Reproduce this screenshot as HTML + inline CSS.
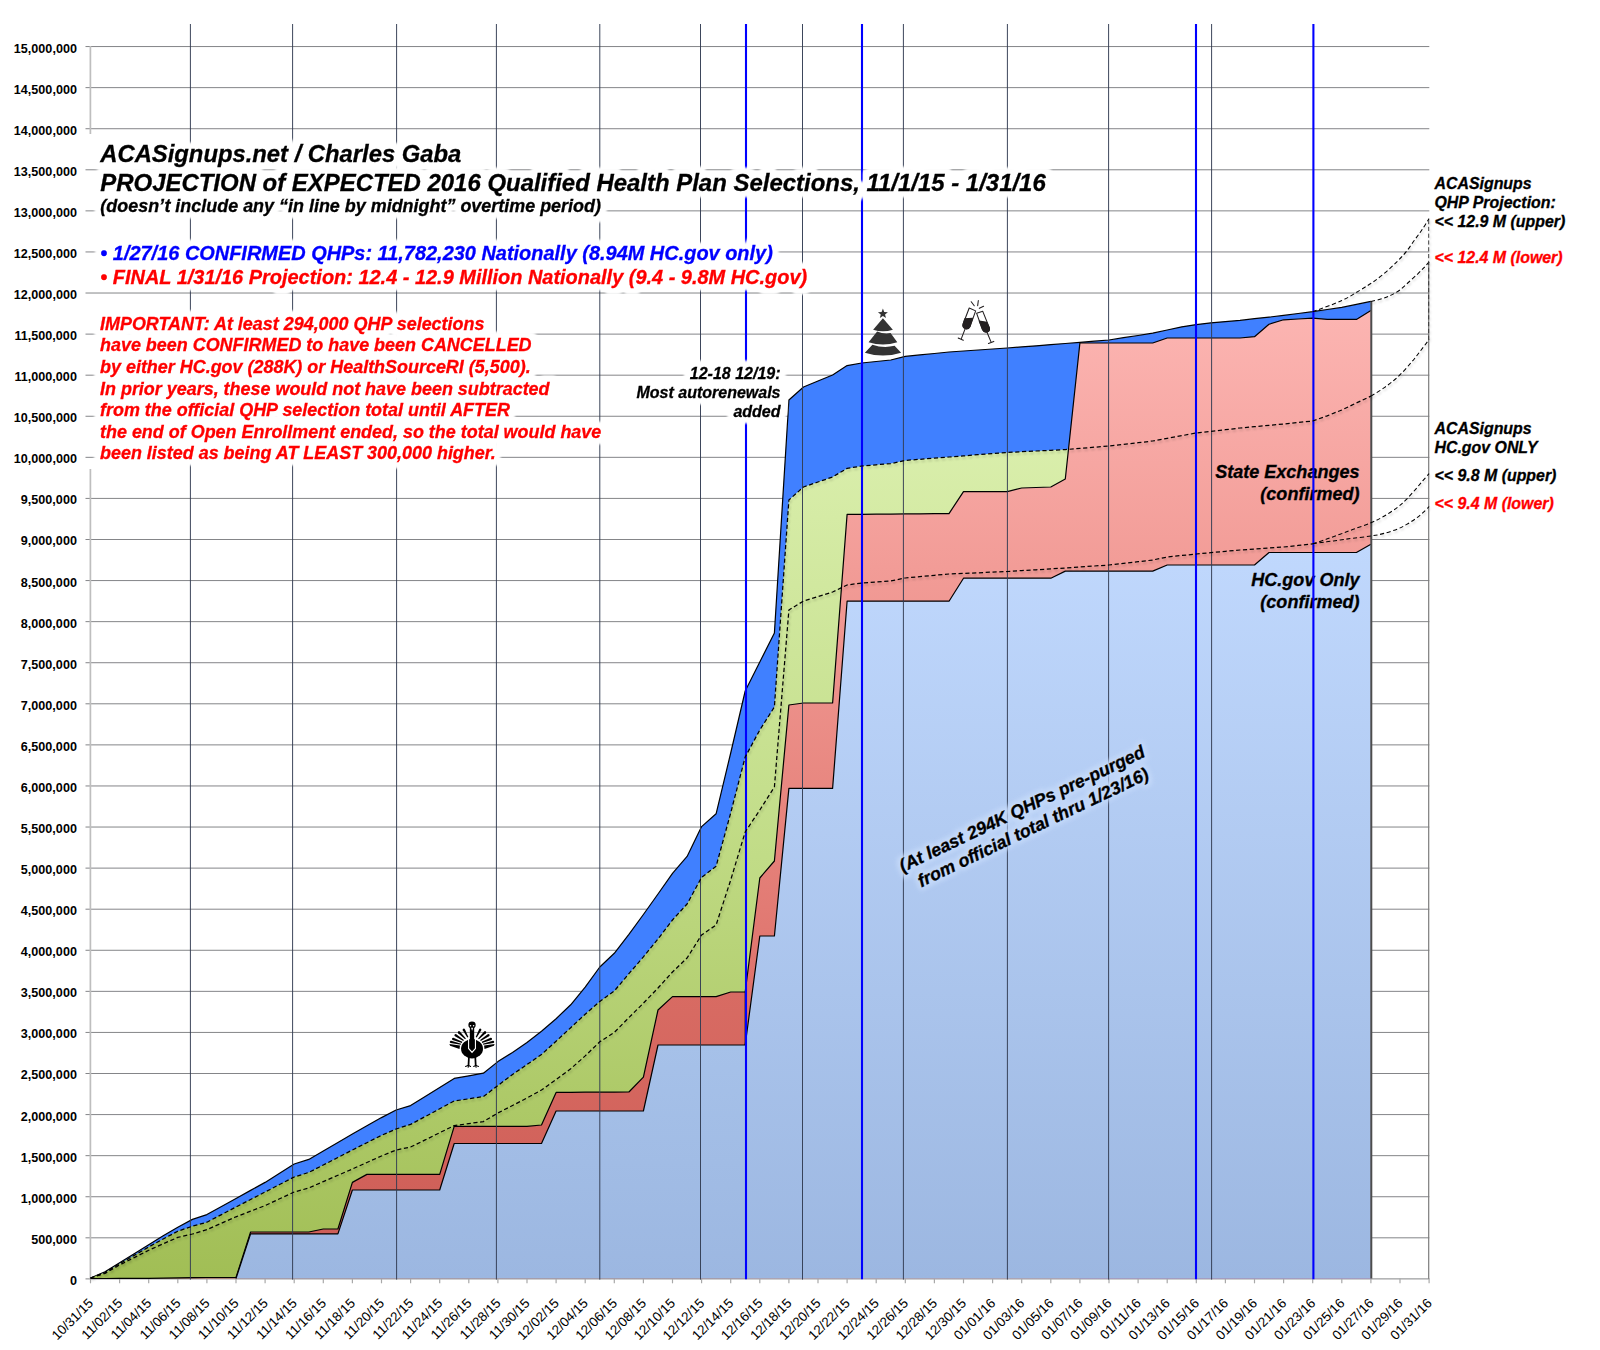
<!DOCTYPE html>
<html lang="en"><head><meta charset="utf-8"><title>ACASignups.net QHP Projection</title>
<style>
html,body{margin:0;padding:0;background:#fff;}
body{width:1600px;height:1350px;overflow:hidden;}
svg{display:block;}
text{font-family:"Liberation Sans",Arial,Helvetica,sans-serif;}
.yl{font-weight:bold;font-size:12.6px;fill:#000;text-anchor:end;}
.xl{font-size:13.4px;fill:#000;text-anchor:end;}
.bi{font-weight:bold;font-style:italic;stroke-width:0.3px;}
</style></head><body>
<svg width="1600" height="1350" viewBox="0 0 1600 1350">
<defs>
<linearGradient id="gHCn" gradientUnits="userSpaceOnUse" x1="0" y1="544" x2="0" y2="1279"><stop offset="0" stop-color="#c0d8fd"/><stop offset="1" stop-color="#9cb7e1"/></linearGradient>
<linearGradient id="gHCo" gradientUnits="userSpaceOnUse" x1="0" y1="1045" x2="0" y2="1279"><stop offset="0" stop-color="#a6c1e9"/><stop offset="1" stop-color="#9cb7e1"/></linearGradient>
<linearGradient id="gRn" gradientUnits="userSpaceOnUse" x1="0" y1="310" x2="0" y2="1045"><stop offset="0" stop-color="#fcb5b2"/><stop offset="0.35" stop-color="#f29c97"/><stop offset="0.65" stop-color="#e88780"/><stop offset="1" stop-color="#db6d66"/></linearGradient>
<linearGradient id="gRo" gradientUnits="userSpaceOnUse" x1="0" y1="992" x2="0" y2="1279"><stop offset="0" stop-color="#d86b63"/><stop offset="1" stop-color="#cd5c55"/></linearGradient>
<linearGradient id="gGn" gradientUnits="userSpaceOnUse" x1="0" y1="449" x2="0" y2="992"><stop offset="0" stop-color="#d9eeab"/><stop offset="1" stop-color="#b9d67b"/></linearGradient>
<linearGradient id="gGo" gradientUnits="userSpaceOnUse" x1="0" y1="755" x2="0" y2="1279"><stop offset="0" stop-color="#c6e08d"/><stop offset="1" stop-color="#a1be55"/></linearGradient>
<filter id="halo" color-interpolation-filters="sRGB" x="-5%" y="-40%" width="110%" height="180%"><feMorphology in="SourceAlpha" operator="dilate" radius="4.6" result="d"/><feGaussianBlur in="d" stdDeviation="1.7" result="b"/><feFlood flood-color="#fff"/><feComposite in2="b" operator="in" result="g"/><feMerge><feMergeNode in="g"/><feMergeNode in="g"/><feMergeNode in="g"/><feMergeNode in="SourceGraphic"/></feMerge></filter>
<filter id="halo2" color-interpolation-filters="sRGB" x="-5%" y="-30%" width="110%" height="160%"><feMorphology in="SourceAlpha" operator="dilate" radius="3" result="d"/><feGaussianBlur in="d" stdDeviation="2.2" result="b"/><feFlood flood-color="#c6dafa" flood-opacity="0.92"/><feComposite in2="b" operator="in"/></filter>
<filter id="dsh" color-interpolation-filters="sRGB" x="-2%" y="-2%" width="104%" height="104%"><feGaussianBlur in="SourceAlpha" stdDeviation="0.9" result="b"/><feOffset in="b" dx="1.3" dy="1.5" result="o"/><feFlood flood-color="#000" flood-opacity="0.2"/><feComposite in2="o" operator="in" result="s"/><feMerge><feMergeNode in="s"/><feMergeNode in="SourceGraphic"/></feMerge></filter>
</defs>
<rect width="1600" height="1350" fill="#fff"/>

<g stroke="#848588" stroke-width="1" fill="none">
<line x1="85.5" y1="1278.90" x2="1429.3" y2="1278.90"/>
<line x1="85.5" y1="1237.82" x2="1429.3" y2="1237.82"/>
<line x1="85.5" y1="1196.74" x2="1429.3" y2="1196.74"/>
<line x1="85.5" y1="1155.67" x2="1429.3" y2="1155.67"/>
<line x1="85.5" y1="1114.59" x2="1429.3" y2="1114.59"/>
<line x1="85.5" y1="1073.51" x2="1429.3" y2="1073.51"/>
<line x1="85.5" y1="1032.43" x2="1429.3" y2="1032.43"/>
<line x1="85.5" y1="991.35" x2="1429.3" y2="991.35"/>
<line x1="85.5" y1="950.28" x2="1429.3" y2="950.28"/>
<line x1="85.5" y1="909.20" x2="1429.3" y2="909.20"/>
<line x1="85.5" y1="868.12" x2="1429.3" y2="868.12"/>
<line x1="85.5" y1="827.04" x2="1429.3" y2="827.04"/>
<line x1="85.5" y1="785.96" x2="1429.3" y2="785.96"/>
<line x1="85.5" y1="744.89" x2="1429.3" y2="744.89"/>
<line x1="85.5" y1="703.81" x2="1429.3" y2="703.81"/>
<line x1="85.5" y1="662.73" x2="1429.3" y2="662.73"/>
<line x1="85.5" y1="621.65" x2="1429.3" y2="621.65"/>
<line x1="85.5" y1="580.57" x2="1429.3" y2="580.57"/>
<line x1="85.5" y1="539.50" x2="1429.3" y2="539.50"/>
<line x1="85.5" y1="498.42" x2="1429.3" y2="498.42"/>
<line x1="85.5" y1="457.34" x2="1429.3" y2="457.34"/>
<line x1="85.5" y1="416.26" x2="1429.3" y2="416.26"/>
<line x1="85.5" y1="375.18" x2="1429.3" y2="375.18"/>
<line x1="85.5" y1="334.11" x2="1429.3" y2="334.11"/>
<line x1="85.5" y1="293.03" x2="1429.3" y2="293.03"/>
<line x1="85.5" y1="251.95" x2="1429.3" y2="251.95"/>
<line x1="85.5" y1="210.87" x2="1429.3" y2="210.87"/>
<line x1="85.5" y1="169.79" x2="1429.3" y2="169.79"/>
<line x1="85.5" y1="128.72" x2="1429.3" y2="128.72"/>
<line x1="85.5" y1="87.64" x2="1429.3" y2="87.64"/>
<line x1="85.5" y1="46.56" x2="1429.3" y2="46.56"/>
</g>
<path d="M90.4,46 V134 M90.4,469 V1279" stroke="#bebebe" stroke-width="1.7" fill="none"/>
<line x1="1428.7" y1="262" x2="1428.7" y2="1279" stroke="#7c7c7c" stroke-width="1.2"/>
<g stroke="#a9a9a9" stroke-width="1.2">
<line x1="90.5" y1="1278.5" x2="90.5" y2="1283.3"/>
<line x1="119.6" y1="1278.5" x2="119.6" y2="1283.3"/>
<line x1="148.7" y1="1278.5" x2="148.7" y2="1283.3"/>
<line x1="177.8" y1="1278.5" x2="177.8" y2="1283.3"/>
<line x1="206.9" y1="1278.5" x2="206.9" y2="1283.3"/>
<line x1="236.0" y1="1278.5" x2="236.0" y2="1283.3"/>
<line x1="265.1" y1="1278.5" x2="265.1" y2="1283.3"/>
<line x1="294.2" y1="1278.5" x2="294.2" y2="1283.3"/>
<line x1="323.3" y1="1278.5" x2="323.3" y2="1283.3"/>
<line x1="352.4" y1="1278.5" x2="352.4" y2="1283.3"/>
<line x1="381.5" y1="1278.5" x2="381.5" y2="1283.3"/>
<line x1="410.6" y1="1278.5" x2="410.6" y2="1283.3"/>
<line x1="439.7" y1="1278.5" x2="439.7" y2="1283.3"/>
<line x1="468.8" y1="1278.5" x2="468.8" y2="1283.3"/>
<line x1="497.9" y1="1278.5" x2="497.9" y2="1283.3"/>
<line x1="527.0" y1="1278.5" x2="527.0" y2="1283.3"/>
<line x1="556.1" y1="1278.5" x2="556.1" y2="1283.3"/>
<line x1="585.2" y1="1278.5" x2="585.2" y2="1283.3"/>
<line x1="614.3" y1="1278.5" x2="614.3" y2="1283.3"/>
<line x1="643.4" y1="1278.5" x2="643.4" y2="1283.3"/>
<line x1="672.5" y1="1278.5" x2="672.5" y2="1283.3"/>
<line x1="701.6" y1="1278.5" x2="701.6" y2="1283.3"/>
<line x1="730.7" y1="1278.5" x2="730.7" y2="1283.3"/>
<line x1="759.8" y1="1278.5" x2="759.8" y2="1283.3"/>
<line x1="788.9" y1="1278.5" x2="788.9" y2="1283.3"/>
<line x1="818.0" y1="1278.5" x2="818.0" y2="1283.3"/>
<line x1="847.1" y1="1278.5" x2="847.1" y2="1283.3"/>
<line x1="876.2" y1="1278.5" x2="876.2" y2="1283.3"/>
<line x1="905.3" y1="1278.5" x2="905.3" y2="1283.3"/>
<line x1="934.4" y1="1278.5" x2="934.4" y2="1283.3"/>
<line x1="963.5" y1="1278.5" x2="963.5" y2="1283.3"/>
<line x1="992.6" y1="1278.5" x2="992.6" y2="1283.3"/>
<line x1="1021.7" y1="1278.5" x2="1021.7" y2="1283.3"/>
<line x1="1050.8" y1="1278.5" x2="1050.8" y2="1283.3"/>
<line x1="1079.9" y1="1278.5" x2="1079.9" y2="1283.3"/>
<line x1="1109.0" y1="1278.5" x2="1109.0" y2="1283.3"/>
<line x1="1138.1" y1="1278.5" x2="1138.1" y2="1283.3"/>
<line x1="1167.2" y1="1278.5" x2="1167.2" y2="1283.3"/>
<line x1="1196.3" y1="1278.5" x2="1196.3" y2="1283.3"/>
<line x1="1225.4" y1="1278.5" x2="1225.4" y2="1283.3"/>
<line x1="1254.5" y1="1278.5" x2="1254.5" y2="1283.3"/>
<line x1="1283.6" y1="1278.5" x2="1283.6" y2="1283.3"/>
<line x1="1312.7" y1="1278.5" x2="1312.7" y2="1283.3"/>
<line x1="1341.8" y1="1278.5" x2="1341.8" y2="1283.3"/>
<line x1="1370.9" y1="1278.5" x2="1370.9" y2="1283.3"/>
<line x1="1400.0" y1="1278.5" x2="1400.0" y2="1283.3"/>
<line x1="1429.1" y1="1278.5" x2="1429.1" y2="1283.3"/>
</g>
<g class="yl">
<text x="76.9" y="1284.8">0</text>
<text x="76.9" y="1243.7">500,000</text>
<text x="76.9" y="1202.6">1,000,000</text>
<text x="76.9" y="1161.6">1,500,000</text>
<text x="76.9" y="1120.5">2,000,000</text>
<text x="76.9" y="1079.4">2,500,000</text>
<text x="76.9" y="1038.3">3,000,000</text>
<text x="76.9" y="997.3">3,500,000</text>
<text x="76.9" y="956.2">4,000,000</text>
<text x="76.9" y="915.1">4,500,000</text>
<text x="76.9" y="874.0">5,000,000</text>
<text x="76.9" y="832.9">5,500,000</text>
<text x="76.9" y="791.9">6,000,000</text>
<text x="76.9" y="750.8">6,500,000</text>
<text x="76.9" y="709.7">7,000,000</text>
<text x="76.9" y="668.6">7,500,000</text>
<text x="76.9" y="627.6">8,000,000</text>
<text x="76.9" y="586.5">8,500,000</text>
<text x="76.9" y="545.4">9,000,000</text>
<text x="76.9" y="504.3">9,500,000</text>
<text x="76.9" y="463.2">10,000,000</text>
<text x="76.9" y="422.2">10,500,000</text>
<text x="76.9" y="381.1">11,000,000</text>
<text x="76.9" y="340.0">11,500,000</text>
<text x="76.9" y="298.9">12,000,000</text>
<text x="76.9" y="257.9">12,500,000</text>
<text x="76.9" y="216.8">13,000,000</text>
<text x="76.9" y="175.7">13,500,000</text>
<text x="76.9" y="134.6">14,000,000</text>
<text x="76.9" y="93.5">14,500,000</text>
<text x="76.9" y="52.5">15,000,000</text>
</g>
<g>
<polygon points="90.5,1278.5 90.5,1278.0 105.0,1271.8 119.6,1262.7 134.2,1253.7 148.7,1244.7 163.2,1235.7 177.8,1227.2 192.4,1219.4 206.9,1214.6 221.5,1206.5 236.0,1198.4 250.6,1190.4 265.1,1182.4 279.6,1173.2 294.2,1164.0 308.8,1159.4 323.3,1151.0 337.9,1142.5 352.4,1134.0 366.9,1125.8 381.5,1117.6 396.1,1110.0 410.6,1105.6 425.2,1096.5 439.7,1087.5 454.2,1078.4 468.8,1075.8 483.4,1073.2 497.9,1061.6 512.5,1052.4 527.0,1042.4 541.5,1031.3 556.1,1018.7 570.7,1004.8 585.2,987.2 599.8,967.0 614.3,953.3 628.9,934.4 643.4,914.5 658.0,894.0 672.5,873.4 687.1,856.4 701.6,826.6 716.1,813.8 730.7,753.0 745.2,691.0 745.2,1278.5" fill="#4080ff" stroke="none" /><polyline points="90.5,1278.0 105.0,1271.8 119.6,1262.7 134.2,1253.7 148.7,1244.7 163.2,1235.7 177.8,1227.2 192.4,1219.4 206.9,1214.6 221.5,1206.5 236.0,1198.4 250.6,1190.4 265.1,1182.4 279.6,1173.2 294.2,1164.0 308.8,1159.4 323.3,1151.0 337.9,1142.5 352.4,1134.0 366.9,1125.8 381.5,1117.6 396.1,1110.0 410.6,1105.6 425.2,1096.5 439.7,1087.5 454.2,1078.4 468.8,1075.8 483.4,1073.2 497.9,1061.6 512.5,1052.4 527.0,1042.4 541.5,1031.3 556.1,1018.7 570.7,1004.8 585.2,987.2 599.8,967.0 614.3,953.3 628.9,934.4 643.4,914.5 658.0,894.0 672.5,873.4 687.1,856.4 701.6,826.6 716.1,813.8 730.7,753.0 745.2,691.0" fill="none" stroke="#000" stroke-width="1.2" stroke-linejoin="round"/>
<polygon points="90.5,1278.5 90.5,1278.0 105.0,1272.6 119.6,1263.8 134.2,1255.4 148.7,1247.0 163.2,1239.0 177.8,1231.2 192.4,1226.2 206.9,1222.2 221.5,1214.6 236.0,1207.0 250.6,1199.5 265.1,1192.0 279.6,1184.5 294.2,1177.0 308.8,1172.4 323.3,1165.0 337.9,1157.5 352.4,1150.0 366.9,1142.7 381.5,1135.4 396.1,1129.0 410.6,1124.4 425.2,1116.6 439.7,1108.8 454.2,1101.0 468.8,1098.8 483.4,1096.6 497.9,1085.5 512.5,1074.5 527.0,1064.5 541.5,1054.5 556.1,1041.2 570.7,1027.7 585.2,1014.2 599.8,1001.5 614.3,991.0 628.9,973.7 643.4,956.9 658.0,939.0 672.5,920.0 687.1,904.0 701.6,877.4 716.1,866.3 730.7,813.0 745.2,757.0 745.2,1278.5" fill="url(#gGo)" stroke="none" />
<polygon points="90.5,1278.5 90.5,1278.5 105.0,1278.5 119.6,1278.4 134.2,1278.3 148.7,1278.3 163.2,1278.1 177.8,1277.9 192.4,1277.7 206.9,1277.5 221.5,1277.5 236.0,1277.5 250.6,1232.0 265.1,1232.0 279.6,1232.0 294.2,1232.0 308.8,1232.0 323.3,1229.0 337.9,1229.0 352.4,1182.4 366.9,1174.4 381.5,1174.4 396.1,1174.4 410.6,1174.4 425.2,1174.4 439.7,1174.4 454.2,1126.4 468.8,1126.4 483.4,1126.4 497.9,1126.4 512.5,1126.4 527.0,1126.4 541.5,1125.0 556.1,1092.4 570.7,1092.3 585.2,1092.2 599.8,1092.2 614.3,1092.1 628.9,1092.0 643.4,1077.2 658.0,1010.0 672.5,996.6 687.1,996.6 701.6,996.6 716.1,996.6 730.7,992.0 745.2,992.0 745.2,1278.5" fill="url(#gRo)" stroke="none" /><polyline points="90.5,1278.5 105.0,1278.5 119.6,1278.4 134.2,1278.3 148.7,1278.3 163.2,1278.1 177.8,1277.9 192.4,1277.7 206.9,1277.5 221.5,1277.5 236.0,1277.5 250.6,1232.0 265.1,1232.0 279.6,1232.0 294.2,1232.0 308.8,1232.0 323.3,1229.0 337.9,1229.0 352.4,1182.4 366.9,1174.4 381.5,1174.4 396.1,1174.4 410.6,1174.4 425.2,1174.4 439.7,1174.4 454.2,1126.4 468.8,1126.4 483.4,1126.4 497.9,1126.4 512.5,1126.4 527.0,1126.4 541.5,1125.0 556.1,1092.4 570.7,1092.3 585.2,1092.2 599.8,1092.2 614.3,1092.1 628.9,1092.0 643.4,1077.2 658.0,1010.0 672.5,996.6 687.1,996.6 701.6,996.6 716.1,996.6 730.7,992.0 745.2,992.0" fill="none" stroke="#000" stroke-width="1.2" stroke-linejoin="round"/>
<polygon points="236.0,1278.5 236.0,1278.5 250.6,1233.9 265.1,1233.9 279.6,1233.9 294.2,1233.9 308.8,1233.9 323.3,1233.9 337.9,1233.9 352.4,1190.0 366.9,1190.0 381.5,1190.0 396.1,1190.0 410.6,1190.0 425.2,1190.0 439.7,1190.0 454.2,1143.5 468.8,1143.5 483.4,1143.5 497.9,1143.5 512.5,1143.5 527.0,1143.5 541.5,1143.5 556.1,1111.0 570.7,1111.0 585.2,1111.0 599.8,1111.0 614.3,1111.0 628.9,1111.0 643.4,1111.0 658.0,1045.0 672.5,1045.0 687.1,1045.0 701.6,1045.0 716.1,1045.0 730.7,1045.0 745.2,1045.0 745.2,1278.5" fill="url(#gHCo)" stroke="none" /><polyline points="236.0,1278.5 250.6,1233.9 265.1,1233.9 279.6,1233.9 294.2,1233.9 308.8,1233.9 323.3,1233.9 337.9,1233.9 352.4,1190.0 366.9,1190.0 381.5,1190.0 396.1,1190.0 410.6,1190.0 425.2,1190.0 439.7,1190.0 454.2,1143.5 468.8,1143.5 483.4,1143.5 497.9,1143.5 512.5,1143.5 527.0,1143.5 541.5,1143.5 556.1,1111.0 570.7,1111.0 585.2,1111.0 599.8,1111.0 614.3,1111.0 628.9,1111.0 643.4,1111.0 658.0,1045.0 672.5,1045.0 687.1,1045.0 701.6,1045.0 716.1,1045.0 730.7,1045.0 745.2,1045.0" fill="none" stroke="#000" stroke-width="1.2" stroke-linejoin="round"/>
<polygon points="745.2,1278.5 745.2,691.0 759.8,662.0 774.4,633.0 788.9,400.0 803.5,387.0 818.0,381.0 832.6,375.0 847.1,365.6 861.7,363.0 876.2,361.5 890.8,360.0 905.3,356.4 919.9,354.9 934.4,353.5 949.0,352.0 963.5,351.0 978.1,350.0 992.6,349.0 1007.2,348.0 1021.7,346.9 1036.2,345.8 1050.8,344.6 1065.3,343.5 1079.9,342.4 1094.5,341.2 1109.0,340.0 1123.5,337.7 1138.1,335.5 1152.7,333.2 1167.2,330.0 1181.8,326.8 1196.3,324.6 1210.9,322.8 1225.4,321.6 1240.0,320.4 1254.5,318.7 1269.0,317.1 1283.6,315.4 1298.2,313.5 1312.7,311.7 1327.2,309.5 1341.8,307.4 1356.4,304.4 1370.9,301.4 1370.9,1278.5" fill="#4080ff" stroke="none" /><polyline points="745.2,691.0 759.8,662.0 774.4,633.0 788.9,400.0 803.5,387.0 818.0,381.0 832.6,375.0 847.1,365.6 861.7,363.0 876.2,361.5 890.8,360.0 905.3,356.4 919.9,354.9 934.4,353.5 949.0,352.0 963.5,351.0 978.1,350.0 992.6,349.0 1007.2,348.0 1021.7,346.9 1036.2,345.8 1050.8,344.6 1065.3,343.5 1079.9,342.4 1094.5,341.2 1109.0,340.0 1123.5,337.7 1138.1,335.5 1152.7,333.2 1167.2,330.0 1181.8,326.8 1196.3,324.6 1210.9,322.8 1225.4,321.6 1240.0,320.4 1254.5,318.7 1269.0,317.1 1283.6,315.4 1298.2,313.5 1312.7,311.7 1327.2,309.5 1341.8,307.4 1356.4,304.4 1370.9,301.4" fill="none" stroke="#000" stroke-width="1.2" stroke-linejoin="round"/>
<polygon points="745.2,1278.5 745.2,757.0 759.8,730.0 774.4,707.0 788.9,500.0 803.5,487.0 818.0,482.0 832.6,477.0 847.1,468.4 861.7,466.0 876.2,464.8 890.8,463.6 905.3,460.4 919.9,459.3 934.4,458.1 949.0,457.0 963.5,455.9 978.1,454.7 992.6,453.5 1007.2,452.4 1021.7,451.7 1036.2,451.0 1050.8,450.3 1065.3,449.6 1079.9,448.4 1079.9,1278.5" fill="url(#gGn)" stroke="none" />
<polygon points="745.2,1278.5 745.2,992.0 759.8,878.0 774.4,861.0 788.9,705.0 803.5,703.0 818.0,703.0 832.6,703.0 847.1,514.4 861.7,514.3 876.2,514.2 890.8,514.1 905.3,513.9 919.9,513.8 934.4,513.7 949.0,513.6 963.5,491.6 978.1,491.6 992.6,491.6 1007.2,491.6 1021.7,488.0 1036.2,487.5 1050.8,487.0 1065.3,479.0 1079.9,343.0 1094.5,343.0 1109.0,343.0 1123.5,343.0 1138.1,343.0 1152.7,343.0 1167.2,338.0 1181.8,338.0 1196.3,338.0 1210.9,338.0 1225.4,338.0 1240.0,338.0 1254.5,336.7 1269.0,324.3 1283.6,319.8 1298.2,319.0 1312.7,318.2 1327.2,319.4 1341.8,319.4 1356.4,319.4 1370.9,310.4 1370.9,1278.5" fill="url(#gRn)" stroke="none" /><polyline points="745.2,992.0 759.8,878.0 774.4,861.0 788.9,705.0 803.5,703.0 818.0,703.0 832.6,703.0 847.1,514.4 861.7,514.3 876.2,514.2 890.8,514.1 905.3,513.9 919.9,513.8 934.4,513.7 949.0,513.6 963.5,491.6 978.1,491.6 992.6,491.6 1007.2,491.6 1021.7,488.0 1036.2,487.5 1050.8,487.0 1065.3,479.0 1079.9,343.0 1094.5,343.0 1109.0,343.0 1123.5,343.0 1138.1,343.0 1152.7,343.0 1167.2,338.0 1181.8,338.0 1196.3,338.0 1210.9,338.0 1225.4,338.0 1240.0,338.0 1254.5,336.7 1269.0,324.3 1283.6,319.8 1298.2,319.0 1312.7,318.2 1327.2,319.4 1341.8,319.4 1356.4,319.4 1370.9,310.4" fill="none" stroke="#000" stroke-width="1.2" stroke-linejoin="round"/>
<polygon points="745.2,1278.5 745.2,1045.0 759.8,936.0 774.4,936.0 788.9,788.4 803.5,788.4 818.0,788.4 832.6,788.4 847.1,601.2 861.7,601.2 876.2,601.2 890.8,601.2 905.3,601.2 919.9,601.2 934.4,601.2 949.0,601.2 963.5,578.2 978.1,578.2 992.6,578.2 1007.2,578.2 1021.7,578.2 1036.2,578.2 1050.8,578.2 1065.3,571.1 1079.9,571.1 1094.5,571.1 1109.0,571.1 1123.5,571.1 1138.1,571.1 1152.7,571.1 1167.2,565.0 1181.8,565.0 1196.3,565.0 1210.9,565.0 1225.4,565.0 1240.0,565.0 1254.5,565.0 1269.0,552.5 1283.6,552.5 1298.2,552.5 1312.7,552.5 1327.2,552.5 1341.8,552.5 1356.4,552.5 1370.9,544.2 1370.9,1278.5" fill="url(#gHCn)" stroke="none" /><polyline points="745.2,1045.0 759.8,936.0 774.4,936.0 788.9,788.4 803.5,788.4 818.0,788.4 832.6,788.4 847.1,601.2 861.7,601.2 876.2,601.2 890.8,601.2 905.3,601.2 919.9,601.2 934.4,601.2 949.0,601.2 963.5,578.2 978.1,578.2 992.6,578.2 1007.2,578.2 1021.7,578.2 1036.2,578.2 1050.8,578.2 1065.3,571.1 1079.9,571.1 1094.5,571.1 1109.0,571.1 1123.5,571.1 1138.1,571.1 1152.7,571.1 1167.2,565.0 1181.8,565.0 1196.3,565.0 1210.9,565.0 1225.4,565.0 1240.0,565.0 1254.5,565.0 1269.0,552.5 1283.6,552.5 1298.2,552.5 1312.7,552.5 1327.2,552.5 1341.8,552.5 1356.4,552.5 1370.9,544.2" fill="none" stroke="#000" stroke-width="1.2" stroke-linejoin="round"/>
<line x1="1371.3" y1="301.4" x2="1371.3" y2="1278.5" stroke="#4d4d4d" stroke-width="2"/>
<line x1="745.2" y1="992" x2="745.2" y2="1045" stroke="#000" stroke-width="1"/>
</g>
<g class="bi" font-size="18.05" text-anchor="end" fill="#000" stroke="#000">
<text x="1359.5" y="477.5">State Exchanges</text><text x="1359.5" y="500">(confirmed)</text>
<text x="1359.5" y="585.5">HC.gov Only</text><text x="1359.5" y="608">(confirmed)</text>
</g>
<g stroke="#333c52" stroke-width="0.95">
<line x1="190.4" y1="24" x2="190.4" y2="1279.6"/>
<line x1="292.6" y1="24" x2="292.6" y2="1279.6"/>
<line x1="396.6" y1="24" x2="396.6" y2="1279.6"/>
<line x1="496.4" y1="24" x2="496.4" y2="1279.6"/>
<line x1="599.8" y1="24" x2="599.8" y2="1279.6"/>
<line x1="700.5" y1="24" x2="700.5" y2="1279.6"/>
<line x1="802.5" y1="24" x2="802.5" y2="1279.6"/>
<line x1="903.4" y1="24" x2="903.4" y2="1279.6"/>
<line x1="1007.4" y1="24" x2="1007.4" y2="1279.6"/>
<line x1="1108.6" y1="24" x2="1108.6" y2="1279.6"/>
<line x1="1211.6" y1="24" x2="1211.6" y2="1279.6"/>
</g>
<g stroke="#0000ff" stroke-width="2.1">
<line x1="746.0" y1="24" x2="746.0" y2="1279.2"/>
<line x1="862.0" y1="24" x2="862.0" y2="1279.2"/>
<line x1="1196.0" y1="24" x2="1196.0" y2="1279.2"/>
<line x1="1313.4" y1="24" x2="1313.4" y2="1279.2"/>
</g>
<g filter="url(#dsh)">
<polyline points="90.5,1278.0 105.0,1272.6 119.6,1263.8 134.2,1255.4 148.7,1247.0 163.2,1239.0 177.8,1231.2 192.4,1226.2 206.9,1222.2 221.5,1214.6 236.0,1207.0 250.6,1199.5 265.1,1192.0 279.6,1184.5 294.2,1177.0 308.8,1172.4 323.3,1165.0 337.9,1157.5 352.4,1150.0 366.9,1142.7 381.5,1135.4 396.1,1129.0 410.6,1124.4 425.2,1116.6 439.7,1108.8 454.2,1101.0 468.8,1098.8 483.4,1096.6 497.9,1085.5 512.5,1074.5 527.0,1064.5 541.5,1054.5 556.1,1041.2 570.7,1027.7 585.2,1014.2 599.8,1001.5 614.3,991.0 628.9,973.7 643.4,956.9 658.0,939.0 672.5,920.0 687.1,904.0 701.6,877.4 716.1,866.3 730.7,813.0 745.2,757.0 759.8,730.0 774.4,707.0 788.9,500.0 803.5,487.0 818.0,482.0 832.6,477.0 847.1,468.4 861.7,466.0 876.2,464.8 890.8,463.6 905.3,460.4 919.9,459.3 934.4,458.1 949.0,457.0 963.5,455.9 978.1,454.7 992.6,453.5 1007.2,452.4 1021.7,451.7 1036.2,451.0 1050.8,450.3 1065.3,449.6 1079.9,448.4 1094.5,447.2 1109.0,446.0 1123.5,444.3 1138.1,442.7 1152.7,441.0 1167.2,438.3 1181.8,435.7 1196.3,433.0 1210.9,431.3 1225.4,429.7 1240.0,428.0 1254.5,426.7 1269.0,425.3 1283.6,424.0 1298.2,422.5 1312.7,421.0 1327.2,415.8 1341.8,410.0 1356.4,403.0 1370.9,396.1" fill="none" stroke="#000" stroke-width="1.25" stroke-dasharray="4.2 2.6" stroke-linejoin="round"/>
<path d="M1370.9,396.1 C1373.2,394.7 1379.9,390.8 1384.4,387.6 C1388.9,384.4 1393.4,381.0 1397.8,376.9 C1402.3,372.8 1407.4,366.9 1411.1,362.7 C1414.7,358.5 1416.9,355.5 1419.9,351.6 C1422.9,347.7 1427.6,341.5 1429.1,339.5" fill="none" stroke="#000" stroke-width="1.05" stroke-dasharray="4.2 2.6"/>
<polyline points="90.5,1278.0 105.0,1273.4 119.6,1265.0 134.2,1257.6 148.7,1250.3 163.2,1243.8 177.8,1237.4 192.4,1234.0 206.9,1229.6 221.5,1223.2 236.0,1216.8 250.6,1211.2 265.1,1205.6 279.6,1198.8 294.2,1192.0 308.8,1188.0 323.3,1181.6 337.9,1175.3 352.4,1169.0 366.9,1162.5 381.5,1156.0 396.1,1150.0 410.6,1147.0 425.2,1139.9 439.7,1132.7 454.2,1125.6 468.8,1123.6 483.4,1121.6 497.9,1113.0 512.5,1105.5 527.0,1098.0 541.5,1090.0 556.1,1079.5 570.7,1068.8 585.2,1055.9 599.8,1041.8 614.3,1032.4 628.9,1017.6 643.4,1003.2 658.0,988.0 672.5,972.0 687.1,958.0 701.6,935.0 716.1,925.0 730.7,880.0 745.2,832.0 759.8,810.0 774.4,787.0 788.9,610.0 803.5,601.0 818.0,596.5 832.6,592.0 847.1,585.0 861.7,583.0 876.2,582.0 890.8,581.0 905.3,578.0 919.9,576.7 934.4,575.3 949.0,574.0 963.5,573.4 978.1,572.8 992.6,572.1 1007.2,571.5 1021.7,570.6 1036.2,569.8 1050.8,568.9 1065.3,568.0 1079.9,567.0 1094.5,566.0 1109.0,565.0 1123.5,563.3 1138.1,561.7 1152.7,560.0 1167.2,557.0 1181.8,555.5 1196.3,554.0 1210.9,552.7 1225.4,551.3 1240.0,550.0 1254.5,549.0 1269.0,548.0 1283.6,547.0 1298.2,545.4 1312.7,543.8" fill="none" stroke="#000" stroke-width="1.25" stroke-dasharray="4.2 2.6" stroke-linejoin="round"/>
<path d="M1312.7,543.8 C1315.0,543.0 1322.1,540.7 1326.7,539.1 C1331.2,537.5 1335.6,535.8 1340.1,534.2 C1344.5,532.6 1348.1,531.2 1353.3,529.3 C1358.5,527.4 1365.9,524.9 1371.0,522.7 C1376.2,520.5 1380.0,518.6 1384.4,516.0 C1388.9,513.4 1394.1,509.9 1397.8,507.1 C1401.5,504.3 1403.7,502.1 1406.7,499.1 C1409.7,496.1 1412.9,492.3 1415.6,489.3 C1418.2,486.3 1420.4,483.5 1422.7,480.9 C1425.0,478.3 1428.0,474.8 1429.1,473.6" fill="none" stroke="#000" stroke-width="1.05" stroke-dasharray="4.2 2.6"/>
<path d="M1312.7,543.8 C1315.0,543.5 1322.1,542.4 1326.7,541.8 C1331.2,541.2 1335.6,540.6 1340.1,540.0 C1344.5,539.4 1348.1,538.9 1353.3,538.2 C1358.5,537.5 1365.9,536.8 1371.0,536.0 C1376.2,535.2 1380.0,534.5 1384.4,533.3 C1388.9,532.1 1394.1,530.4 1397.8,528.9 C1401.5,527.4 1403.7,526.1 1406.7,524.4 C1409.7,522.7 1412.9,520.6 1415.6,518.7 C1418.2,516.8 1420.4,514.9 1422.7,512.9 C1425.0,510.9 1428.0,507.6 1429.1,506.5" fill="none" stroke="#000" stroke-width="1.05" stroke-dasharray="4.2 2.6"/>
<path d="M1312.7,311.7 C1317.5,309.9 1333.9,304.2 1341.8,300.6 C1349.7,297.0 1354.7,293.3 1360.0,290.2 C1365.2,287.1 1368.9,284.9 1373.4,281.8 C1377.8,278.7 1382.6,274.9 1386.8,271.3 C1390.9,267.7 1394.9,263.8 1398.3,260.4 C1401.6,257.0 1403.9,254.6 1406.7,251.1 C1409.5,247.6 1412.5,242.9 1415.1,239.3 C1417.7,235.7 1419.9,232.8 1422.3,229.3 C1424.6,225.9 1428.0,220.4 1429.1,218.6" fill="none" stroke="#000" stroke-width="1.05" stroke-dasharray="4.2 2.6"/>
<path d="M1370.9,301.4 C1372.8,300.9 1378.9,299.8 1382.2,298.7 C1385.6,297.6 1388.2,296.6 1391.1,295.1 C1394.1,293.6 1397.0,292.1 1400.0,289.9 C1403.0,287.7 1405.9,284.7 1408.9,282.0 C1411.8,279.3 1415.2,276.2 1417.8,273.8 C1420.3,271.4 1422.1,269.6 1424.0,267.6 C1425.9,265.6 1428.3,262.8 1429.1,261.8" fill="none" stroke="#000" stroke-width="1.05" stroke-dasharray="4.2 2.6"/>
<line x1="1428.7" y1="220" x2="1428.7" y2="341" stroke="#333" stroke-width="0.95" stroke-dasharray="4.2 2.6"/>
</g>
<g class="xl">
<text transform="translate(94.1,1304.0) rotate(-45)">10/31/15</text>
<text transform="translate(123.2,1304.0) rotate(-45)">11/02/15</text>
<text transform="translate(152.3,1304.0) rotate(-45)">11/04/15</text>
<text transform="translate(181.4,1304.0) rotate(-45)">11/06/15</text>
<text transform="translate(210.5,1304.0) rotate(-45)">11/08/15</text>
<text transform="translate(239.6,1304.0) rotate(-45)">11/10/15</text>
<text transform="translate(268.7,1304.0) rotate(-45)">11/12/15</text>
<text transform="translate(297.8,1304.0) rotate(-45)">11/14/15</text>
<text transform="translate(326.9,1304.0) rotate(-45)">11/16/15</text>
<text transform="translate(356.0,1304.0) rotate(-45)">11/18/15</text>
<text transform="translate(385.1,1304.0) rotate(-45)">11/20/15</text>
<text transform="translate(414.2,1304.0) rotate(-45)">11/22/15</text>
<text transform="translate(443.3,1304.0) rotate(-45)">11/24/15</text>
<text transform="translate(472.4,1304.0) rotate(-45)">11/26/15</text>
<text transform="translate(501.5,1304.0) rotate(-45)">11/28/15</text>
<text transform="translate(530.6,1304.0) rotate(-45)">11/30/15</text>
<text transform="translate(559.7,1304.0) rotate(-45)">12/02/15</text>
<text transform="translate(588.8,1304.0) rotate(-45)">12/04/15</text>
<text transform="translate(617.9,1304.0) rotate(-45)">12/06/15</text>
<text transform="translate(647.0,1304.0) rotate(-45)">12/08/15</text>
<text transform="translate(676.1,1304.0) rotate(-45)">12/10/15</text>
<text transform="translate(705.2,1304.0) rotate(-45)">12/12/15</text>
<text transform="translate(734.3,1304.0) rotate(-45)">12/14/15</text>
<text transform="translate(763.4,1304.0) rotate(-45)">12/16/15</text>
<text transform="translate(792.5,1304.0) rotate(-45)">12/18/15</text>
<text transform="translate(821.6,1304.0) rotate(-45)">12/20/15</text>
<text transform="translate(850.7,1304.0) rotate(-45)">12/22/15</text>
<text transform="translate(879.8,1304.0) rotate(-45)">12/24/15</text>
<text transform="translate(908.9,1304.0) rotate(-45)">12/26/15</text>
<text transform="translate(938.0,1304.0) rotate(-45)">12/28/15</text>
<text transform="translate(967.1,1304.0) rotate(-45)">12/30/15</text>
<text transform="translate(996.2,1304.0) rotate(-45)">01/01/16</text>
<text transform="translate(1025.3,1304.0) rotate(-45)">01/03/16</text>
<text transform="translate(1054.4,1304.0) rotate(-45)">01/05/16</text>
<text transform="translate(1083.5,1304.0) rotate(-45)">01/07/16</text>
<text transform="translate(1112.6,1304.0) rotate(-45)">01/09/16</text>
<text transform="translate(1141.7,1304.0) rotate(-45)">01/11/16</text>
<text transform="translate(1170.8,1304.0) rotate(-45)">01/13/16</text>
<text transform="translate(1199.9,1304.0) rotate(-45)">01/15/16</text>
<text transform="translate(1229.0,1304.0) rotate(-45)">01/17/16</text>
<text transform="translate(1258.1,1304.0) rotate(-45)">01/19/16</text>
<text transform="translate(1287.2,1304.0) rotate(-45)">01/21/16</text>
<text transform="translate(1316.3,1304.0) rotate(-45)">01/23/16</text>
<text transform="translate(1345.4,1304.0) rotate(-45)">01/25/16</text>
<text transform="translate(1374.5,1304.0) rotate(-45)">01/27/16</text>
<text transform="translate(1403.6,1304.0) rotate(-45)">01/29/16</text>
<text transform="translate(1432.7,1304.0) rotate(-45)">01/31/16</text>
</g>
<g class="bi" filter="url(#halo)" fill="#000" stroke="#000">
<text x="100.3" y="162.2" font-size="23.8">ACASignups.net / Charles Gaba</text>
<text x="100.3" y="191.2" font-size="23.95">PROJECTION of EXPECTED 2016 Qualified Health Plan Selections, 11/1/15 - 1/31/16</text>
<text x="100.3" y="212.2" font-size="17.95">(doesn’t include any “in line by midnight” overtime period)</text>
</g>
<g class="bi" filter="url(#halo)" font-size="19.96">
<text x="100.3" y="260.4" fill="#0000ff" stroke="#0000ff">• 1/27/16 CONFIRMED QHPs: 11,782,230 Nationally (8.94M HC.gov only)</text>
<text x="100.3" y="283.8" fill="#ff0000" stroke="#ff0000">• FINAL 1/31/16 Projection: 12.4 - 12.9 Million Nationally (9.4 - 9.8M HC.gov)</text>
</g>
<g class="bi" filter="url(#halo)" font-size="17.94" fill="#ff0000" stroke="#ff0000">
<text x="100" y="329.7">IMPORTANT: At least 294,000 QHP selections</text>
<text x="100" y="351.3">have been CONFIRMED to have been CANCELLED</text>
<text x="100" y="372.9">by either HC.gov (288K) or HealthSourceRI (5,500).</text>
<text x="100" y="394.5">In prior years, these would not have been subtracted</text>
<text x="100" y="416.1">from the official QHP selection total until AFTER</text>
<text x="100" y="437.7">the end of Open Enrollment ended, so the total would have</text>
<text x="100" y="459.3">been listed as being AT LEAST 300,000 higher.</text>
</g>
<g class="bi" filter="url(#halo)" font-size="16" fill="#000" stroke="#000" text-anchor="end">
<text x="780.5" y="379">12-18 12/19:</text><text x="780.5" y="398">Most autorenewals</text><text x="780.5" y="417">added</text>
</g>
<g class="bi" font-size="15.9" fill="#000" stroke="#000">
<text x="1434.5" y="188.5">ACASignups</text><text x="1434.5" y="207.5">QHP Projection:</text><text x="1434.5" y="226.5">&lt;&lt; 12.9 M (upper)</text>
<text x="1434.5" y="262.5" fill="#ff0000" stroke="#ff0000">&lt;&lt; 12.4 M (lower)</text>
<text x="1434.5" y="433.7">ACASignups</text><text x="1434.5" y="452.8">HC.gov ONLY</text><text x="1434.5" y="480.6">&lt;&lt; 9.8 M (upper)</text>
<text x="1434.5" y="508.7" fill="#ff0000" stroke="#ff0000">&lt;&lt; 9.4 M (lower)</text>
</g>
<g class="bi" font-size="17.8" text-anchor="middle" transform="translate(1024.5,813.5) rotate(-25.5)">
<g filter="url(#halo2)"><use href="#rn1"/><use href="#rn2"/></g>
<g fill="#000" stroke="#000"><text id="rn1" x="-0.3" y="0.7">(At least 294K QHPs pre-purged</text><text id="rn2" x="1.7" y="22.2">from official total thru 1/23/16)</text></g>
</g>
<g transform="translate(440,1010) scale(0.04815)">
<g fill="#000">
<path d="M763,571 L857,422 A25,25 0 0 0 813,398 L741,559 Z"/>
<path d="M589,559 L517,398 A25,25 0 0 0 473,422 L567,571 Z"/>
<path d="M808,608 L953,483 A25,25 0 0 0 917,447 L792,592 Z"/>
<path d="M538,592 L413,447 A25,25 0 0 0 377,483 L522,608 Z"/>
<path d="M847,645 L1019,546 A25,25 0 0 0 991,504 L833,625 Z"/>
<path d="M497,625 L339,504 A25,25 0 0 0 311,546 L483,645 Z"/>
<path d="M874,683 L1069,621 A25,25 0 0 0 1051,575 L866,661 Z"/>
<path d="M464,661 L279,575 A25,25 0 0 0 261,621 L456,683 Z"/>
<path d="M893,724 L1111,686 A25,25 0 0 0 1099,638 L887,700 Z"/>
<path d="M443,700 L231,638 A25,25 0 0 0 219,686 L437,724 Z"/>
</g>
<polygon points="915,735 1135,705 1120,745 925,810" fill="#000"/><polygon points="415,735 195,705 210,745 405,810" fill="#000"/>
<ellipse cx="665" cy="805" rx="250" ry="222" fill="#fff"/>
<ellipse cx="665" cy="805" rx="228" ry="200" fill="#000"/>
<path d="M596,585 L596,800 L665,876 L734,800 L734,585" fill="none" stroke="#fff" stroke-width="27"/>
<path d="M620,300 L620,600 L610,600 L610,792 L665,852 L720,792 L720,600 L710,600 L710,300 Z" fill="#000"/>
<ellipse cx="665" cy="312" rx="76" ry="72" fill="#000"/>
<circle cx="634" cy="326" r="16" fill="#fff"/><circle cx="698" cy="326" r="16" fill="#fff"/>
<polygon points="645,368 688,368 667,432" fill="#fff"/>
<g stroke="#000" stroke-width="36" stroke-linecap="round"><line x1="600" y1="985" x2="592" y2="1150"/><line x1="733" y1="985" x2="742" y2="1150"/></g>
<g stroke="#000" stroke-width="22" stroke-linecap="round"><line x1="592" y1="1150" x2="530" y2="1172"/><line x1="592" y1="1150" x2="635" y2="1172"/><line x1="592" y1="1150" x2="585" y2="1190"/><line x1="742" y1="1150" x2="700" y2="1172"/><line x1="742" y1="1150" x2="800" y2="1172"/><line x1="742" y1="1150" x2="750" y2="1190"/></g>
</g>
<g transform="translate(855,300) scale(0.04444)" fill="#333">
<polygon points="628,194 657,272 740,276 676,327 697,407 628,362 559,407 580,327 516,276 599,272"/>
<path d="M628,408 L852,668 Q628,742 408,668 Z"/>
<path d="M498,710 Q640,768 800,745 L952,948 Q628,1050 305,948 Z"/>
<path d="M392,1008 Q640,1092 890,1032 L1038,1185 Q628,1318 222,1185 Z"/>
</g>
<g transform="translate(945,290) scale(0.04444)" stroke="#231f20" stroke-width="24" fill="none" stroke-linecap="round" stroke-linejoin="round">
<path d="M545,405 L690,470 L565,820 Q530,890 460,870 Q385,840 405,770 Z"/>
<path d="M443,648 L622,636 L560,822 Q528,885 462,868 Q390,840 408,770 Z" fill="#231f20"/>
<line x1="450" y1="880" x2="368" y2="1095"/><line x1="298" y1="1082" x2="412" y2="1132"/>
<path d="M712,525 L850,480 L998,850 Q1015,925 945,945 Q880,960 845,895 Z"/>
<path d="M770,700 L940,728 L998,852 Q1012,922 945,943 Q882,957 848,893 Z" fill="#231f20"/>
<line x1="945" y1="950" x2="1035" y2="1168"/><line x1="978" y1="1203" x2="1098" y2="1157"/>
<line x1="590" y1="265" x2="658" y2="355"/><line x1="750" y1="237" x2="735" y2="353"/><line x1="868" y1="367" x2="772" y2="413"/>
</g>
</svg></body></html>
